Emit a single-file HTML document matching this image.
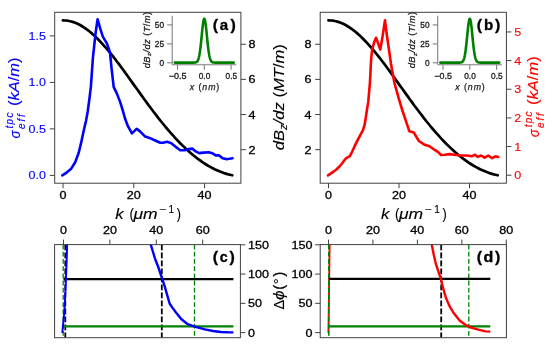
<!DOCTYPE html><html><head><meta charset="utf-8"><style>html,body{margin:0;padding:0;background:#fff;width:550px;height:348px;overflow:hidden}svg{display:block;will-change:transform}text{font-family:"Liberation Sans",sans-serif}</style></head><body>
<svg width="550" height="348" viewBox="0 0 550 348">
<rect width="550" height="348" fill="#fff"/>
<defs>
<clipPath id="ca"><rect x="54.7" y="12.3" width="186.2" height="170.89999999999998"/></clipPath>
<clipPath id="cb"><rect x="320.2" y="12.3" width="186.2" height="170.89999999999998"/></clipPath>
<clipPath id="cc"><rect x="54.6" y="244.6" width="185.8" height="93.1"/></clipPath>
<clipPath id="cd"><rect x="320.2" y="244.6" width="186.2" height="93.1"/></clipPath>
</defs>
<g clip-path="url(#ca)">
<polyline points="62.9,20.4 65.4,20.5 67.8,20.7 70.3,21.2 72.7,21.9 75.2,22.7 77.6,23.8 80.1,25.0 82.5,26.5 85.0,28.1 87.5,29.9 89.9,31.8 92.4,33.9 94.8,36.1 97.3,38.5 99.7,41.0 102.2,43.6 104.6,46.4 107.1,49.2 109.5,52.2 112.0,55.2 114.5,58.3 116.9,61.5 119.4,64.7 121.8,68.0 124.3,71.4 126.7,74.8 129.2,78.2 131.6,81.6 134.1,85.1 136.6,88.5 139.0,91.9 141.5,95.4 143.9,98.8 146.4,102.1 148.8,105.5 151.3,108.8 153.7,112.0 156.2,115.2 158.6,118.4 161.1,121.5 163.6,124.5 166.0,127.5 168.5,130.4 170.9,133.2 173.4,135.9 175.8,138.6 178.3,141.2 180.7,143.7 183.2,146.1 185.7,148.5 188.1,150.7 190.6,152.9 193.0,155.0 195.5,157.0 197.9,158.9 200.4,160.7 202.8,162.4 205.3,164.0 207.7,165.5 210.2,166.9 212.7,168.2 215.1,169.5 217.6,170.6 220.0,171.6 222.5,172.5 224.9,173.4 227.4,174.1 229.8,174.7 232.3,175.3" fill="none" stroke="#000" stroke-width="2.7" stroke-linejoin="round" stroke-linecap="round"/>
<polyline points="62.3,175.3 66.6,172.6 70.9,169.1 75.2,162.2 78.7,152.8 81.2,142.4 83.8,130.3 86.1,120.5 87.7,111.5 89.4,99.0 90.9,86.4 92.9,57.9 95.7,32.1 97.6,19.3 100.5,29.4 102.8,36.6 107.1,43.8 110.0,52.5 111.4,66.9 113.7,87.1 116.6,92.9 120.2,102.1 122.8,110.7 125.3,119.3 127.9,126.2 131.9,133.4 134.0,131.4 136.6,128.8 140.0,131.4 145.2,136.6 149.5,137.9 155.2,140.5 160.3,142.8 163.8,142.6 167.2,141.7 171.6,143.4 175.9,146.9 180.2,150.3 184.5,150.3 188.8,149.1 192.2,148.6 195.7,151.4 199.1,153.1 203.4,152.6 208.8,152.2 212.2,153.2 215.7,155.4 219.1,155.4 222.6,158.2 226.0,159.1 229.5,158.7 232.5,158.2" fill="none" stroke="#0000ff" stroke-width="2.6" stroke-linejoin="round" stroke-linecap="round"/>
</g>
<rect x="54.7" y="12.3" width="186.2" height="170.89999999999998" fill="none" stroke="#404040" stroke-width="1.0"/>
<polyline points="174.82,62.60 175.19,62.60 175.56,62.60 175.93,62.60 176.30,62.60 176.67,62.60 177.04,62.60 177.42,62.60 177.79,62.60 178.16,62.60 178.53,62.60 178.90,62.60 179.27,62.60 179.64,62.60 180.01,62.60 180.38,62.60 180.75,62.60 181.12,62.60 181.49,62.60 181.87,62.60 182.24,62.60 182.61,62.60 182.98,62.60 183.35,62.60 183.72,62.60 184.09,62.60 184.46,62.60 184.83,62.60 185.20,62.60 185.57,62.60 185.94,62.60 186.32,62.60 186.69,62.60 187.06,62.60 187.43,62.60 187.80,62.60 188.17,62.60 188.54,62.60 188.91,62.60 189.28,62.60 189.65,62.60 190.02,62.60 190.39,62.60 190.77,62.60 191.14,62.60 191.51,62.60 191.88,62.60 192.25,62.60 192.62,62.60 192.99,62.60 193.36,62.59 193.73,62.59 194.10,62.58 194.47,62.56 194.84,62.53 195.21,62.49 195.59,62.42 195.96,62.32 196.33,62.16 196.70,61.94 197.07,61.61 197.44,61.15 197.81,60.53 198.18,59.70 198.55,58.61 198.92,57.21 199.29,55.48 199.66,53.37 200.04,50.88 200.41,48.00 200.78,44.78 201.15,41.28 201.52,37.60 201.89,33.85 202.26,30.20 202.63,26.81 203.00,23.83 203.37,21.45 203.74,19.77 204.11,18.91 204.49,18.91 204.86,19.77 205.23,21.45 205.60,23.83 205.97,26.81 206.34,30.20 206.71,33.85 207.08,37.60 207.45,41.28 207.82,44.78 208.19,48.00 208.56,50.88 208.94,53.37 209.31,55.48 209.68,57.21 210.05,58.61 210.42,59.70 210.79,60.53 211.16,61.15 211.53,61.61 211.90,61.94 212.27,62.16 212.64,62.32 213.01,62.42 213.39,62.49 213.76,62.53 214.13,62.56 214.50,62.58 214.87,62.59 215.24,62.59 215.61,62.60 215.98,62.60 216.35,62.60 216.72,62.60 217.09,62.60 217.46,62.60 217.83,62.60 218.21,62.60 218.58,62.60 218.95,62.60 219.32,62.60 219.69,62.60 220.06,62.60 220.43,62.60 220.80,62.60 221.17,62.60 221.54,62.60 221.91,62.60 222.28,62.60 222.66,62.60 223.03,62.60 223.40,62.60 223.77,62.60 224.14,62.60 224.51,62.60 224.88,62.60 225.25,62.60 225.62,62.60 225.99,62.60 226.36,62.60 226.73,62.60 227.11,62.60 227.48,62.60 227.85,62.60 228.22,62.60 228.59,62.60 228.96,62.60 229.33,62.60 229.70,62.60 230.07,62.60 230.44,62.60 230.81,62.60 231.18,62.60 231.56,62.60 231.93,62.60 232.30,62.60 232.67,62.60 233.04,62.60 233.41,62.60 233.78,62.60" fill="none" stroke="#008000" stroke-width="2.6" stroke-linejoin="round" stroke-linecap="round"/>
<line x1="172.2" y1="15.8" x2="172.2" y2="64.7" stroke="#7f7f7f" stroke-width="1.1"/>
<line x1="172.2" y1="64.7" x2="236.4" y2="64.7" stroke="#7f7f7f" stroke-width="1.1"/>
<line x1="167.2" y1="62.8" x2="172.2" y2="62.8" stroke="#7f7f7f" stroke-width="1.1"/>
<text x="159.40" y="65.80" font-size="8.6" fill="#1a1a1a" textLength="4.6" lengthAdjust="spacingAndGlyphs" stroke="#1a1a1a" stroke-width="0.3">0</text>
<line x1="167.2" y1="43.9" x2="172.2" y2="43.9" stroke="#7f7f7f" stroke-width="1.1"/>
<text x="154.80" y="46.90" font-size="8.6" fill="#1a1a1a" textLength="9.2" lengthAdjust="spacingAndGlyphs" stroke="#1a1a1a" stroke-width="0.3">25</text>
<line x1="167.2" y1="24.9" x2="172.2" y2="24.9" stroke="#7f7f7f" stroke-width="1.1"/>
<text x="154.80" y="27.90" font-size="8.6" fill="#1a1a1a" textLength="9.2" lengthAdjust="spacingAndGlyphs" stroke="#1a1a1a" stroke-width="0.3">50</text>
<line x1="177.5" y1="64.7" x2="177.5" y2="69.7" stroke="#7f7f7f" stroke-width="1.1"/>
<text x="168.85" y="79.00" font-size="8.6" fill="#1a1a1a" textLength="17.7" lengthAdjust="spacingAndGlyphs" stroke="#1a1a1a" stroke-width="0.3">−0.5</text>
<line x1="204.3" y1="64.7" x2="204.3" y2="69.7" stroke="#7f7f7f" stroke-width="1.1"/>
<text x="198.75" y="79.00" font-size="8.6" fill="#1a1a1a" textLength="11.5" lengthAdjust="spacingAndGlyphs" stroke="#1a1a1a" stroke-width="0.3">0.0</text>
<line x1="231.1" y1="64.7" x2="231.1" y2="69.7" stroke="#7f7f7f" stroke-width="1.1"/>
<text x="225.55" y="79.00" font-size="8.6" fill="#1a1a1a" textLength="11.5" lengthAdjust="spacingAndGlyphs" stroke="#1a1a1a" stroke-width="0.3">0.5</text>
<text x="189.80" y="90.00" font-size="8.8" fill="#1a1a1a" textLength="29.5" lengthAdjust="spacing" stroke="#1a1a1a" stroke-width="0.25"><tspan font-style="italic">x</tspan> (<tspan font-style="italic">nm</tspan>)</text>
<g transform="translate(149.6,68.3) rotate(-90)">
<text x="0.00" y="0.00" font-size="9.4" fill="#1a1a1a" textLength="56.5" lengthAdjust="spacing" stroke="#1a1a1a" stroke-width="0.25"><tspan font-style="italic">dB</tspan><tspan font-style="italic" font-size="6.0" dy="1.7">z</tspan><tspan font-style="italic" dy="-1.7">/dz</tspan> (<tspan font-style="italic">T</tspan>/<tspan font-style="italic">m</tspan>)</text>
</g>
<text x="212.80" y="29.70" font-size="14.4" font-weight="bold" textLength="5.3" lengthAdjust="spacingAndGlyphs" stroke="#000" stroke-width="0.3">(</text>
<text x="219.80" y="30.20" font-size="14.0" font-weight="bold" textLength="8.4" lengthAdjust="spacingAndGlyphs" stroke="#000" stroke-width="0.3">a</text>
<text x="230.40" y="29.70" font-size="14.4" font-weight="bold" textLength="5.3" lengthAdjust="spacingAndGlyphs" stroke="#000" stroke-width="0.3">)</text>
<line x1="49.7" y1="175.40" x2="54.7" y2="175.40" stroke="#404040" stroke-width="1.0"/>
<text x="28.60" y="179.40" font-size="11.2" fill="#0000ff" textLength="17.4" lengthAdjust="spacingAndGlyphs" stroke="#0000ff" stroke-width="0.12">0.0</text>
<line x1="49.7" y1="128.90" x2="54.7" y2="128.90" stroke="#404040" stroke-width="1.0"/>
<text x="28.60" y="132.90" font-size="11.2" fill="#0000ff" textLength="17.4" lengthAdjust="spacingAndGlyphs" stroke="#0000ff" stroke-width="0.12">0.5</text>
<line x1="49.7" y1="82.40" x2="54.7" y2="82.40" stroke="#404040" stroke-width="1.0"/>
<text x="28.60" y="86.40" font-size="11.2" fill="#0000ff" textLength="17.4" lengthAdjust="spacingAndGlyphs" stroke="#0000ff" stroke-width="0.12">1.0</text>
<line x1="49.7" y1="35.90" x2="54.7" y2="35.90" stroke="#404040" stroke-width="1.0"/>
<text x="28.60" y="39.90" font-size="11.2" fill="#0000ff" textLength="17.4" lengthAdjust="spacingAndGlyphs" stroke="#0000ff" stroke-width="0.12">1.5</text>
<line x1="240.9" y1="149.66" x2="245.9" y2="149.66" stroke="#404040" stroke-width="1.0"/>
<text x="248.50" y="153.66" font-size="11.2" textLength="7.0" lengthAdjust="spacingAndGlyphs" stroke="#000" stroke-width="0.3">2</text>
<line x1="240.9" y1="114.52" x2="245.9" y2="114.52" stroke="#404040" stroke-width="1.0"/>
<text x="248.50" y="118.52" font-size="11.2" textLength="7.0" lengthAdjust="spacingAndGlyphs" stroke="#000" stroke-width="0.3">4</text>
<line x1="240.9" y1="79.38" x2="245.9" y2="79.38" stroke="#404040" stroke-width="1.0"/>
<text x="248.50" y="83.38" font-size="11.2" textLength="7.0" lengthAdjust="spacingAndGlyphs" stroke="#000" stroke-width="0.3">6</text>
<line x1="240.9" y1="44.24" x2="245.9" y2="44.24" stroke="#404040" stroke-width="1.0"/>
<text x="248.50" y="48.24" font-size="11.2" textLength="7.0" lengthAdjust="spacingAndGlyphs" stroke="#000" stroke-width="0.3">8</text>
<line x1="63.00" y1="183.2" x2="63.00" y2="188.2" stroke="#404040" stroke-width="1.0"/>
<text x="59.50" y="199.20" font-size="11.2" textLength="7.0" lengthAdjust="spacingAndGlyphs" stroke="#000" stroke-width="0.3">0</text>
<line x1="133.80" y1="183.2" x2="133.80" y2="188.2" stroke="#404040" stroke-width="1.0"/>
<text x="126.80" y="199.20" font-size="11.2" textLength="14.0" lengthAdjust="spacingAndGlyphs" stroke="#000" stroke-width="0.3">20</text>
<line x1="204.60" y1="183.2" x2="204.60" y2="188.2" stroke="#404040" stroke-width="1.0"/>
<text x="197.60" y="199.20" font-size="11.2" textLength="14.0" lengthAdjust="spacingAndGlyphs" stroke="#000" stroke-width="0.3">40</text>
<text x="115.30" y="218.70" font-size="14.0" font-style="italic" textLength="8.4" lengthAdjust="spacingAndGlyphs" stroke="#000" stroke-width="0.12">k</text>
<text x="129.40" y="218.70" font-size="14.0" textLength="4.4" lengthAdjust="spacingAndGlyphs" stroke="#000" stroke-width="0.12">(</text>
<text x="133.40" y="218.70" font-size="14.0" font-style="italic" textLength="24.2" lengthAdjust="spacingAndGlyphs" stroke="#000" stroke-width="0.12">μm</text>
<text x="159.50" y="212.80" font-size="10.0" textLength="7.2" lengthAdjust="spacingAndGlyphs" stroke="#000" stroke-width="0.12">−</text>
<text x="168.60" y="212.80" font-size="10.0" textLength="5.6" lengthAdjust="spacingAndGlyphs" stroke="#000" stroke-width="0.12">1</text>
<text x="176.80" y="218.70" font-size="14.0" textLength="4.2" lengthAdjust="spacingAndGlyphs" stroke="#000" stroke-width="0.12">)</text>
<g transform="translate(19.9,138.4) rotate(-90)">
<text x="0.00" y="0.00" font-size="14.4" fill="#0000ff" font-style="italic" textLength="8.0" lengthAdjust="spacingAndGlyphs" stroke="#0000ff" stroke-width="0.12">σ</text>
<text x="9.40" y="4.70" font-size="10.0" fill="#0000ff" font-style="italic" textLength="14.8" lengthAdjust="spacing" stroke="#0000ff" stroke-width="0.12">eff</text>
<text x="10.00" y="-7.40" font-size="10.0" fill="#0000ff" font-style="italic" textLength="15.8" lengthAdjust="spacing" stroke="#0000ff" stroke-width="0.12">tpc</text>
<text x="32.40" y="-0.60" font-size="14.0" fill="#0000ff" textLength="48.6" lengthAdjust="spacingAndGlyphs" stroke="#0000ff" stroke-width="0.12">(<tspan font-style="italic">kA</tspan>/<tspan font-style="italic">m</tspan>)</text>
</g>
<g clip-path="url(#cb)">
<polyline points="328.4,20.4 330.9,20.5 333.3,20.7 335.8,21.2 338.2,21.9 340.7,22.7 343.1,23.8 345.6,25.0 348.0,26.5 350.5,28.1 353.0,29.9 355.4,31.8 357.9,33.9 360.3,36.1 362.8,38.5 365.2,41.0 367.7,43.6 370.1,46.4 372.6,49.2 375.0,52.2 377.5,55.2 380.0,58.3 382.4,61.5 384.9,64.7 387.3,68.0 389.8,71.4 392.2,74.8 394.7,78.2 397.1,81.6 399.6,85.1 402.1,88.5 404.5,91.9 407.0,95.4 409.4,98.8 411.9,102.1 414.3,105.5 416.8,108.8 419.2,112.0 421.7,115.2 424.1,118.4 426.6,121.5 429.1,124.5 431.5,127.5 434.0,130.4 436.4,133.2 438.9,135.9 441.3,138.6 443.8,141.2 446.2,143.7 448.7,146.1 451.2,148.5 453.6,150.7 456.1,152.9 458.5,155.0 461.0,157.0 463.4,158.9 465.9,160.7 468.3,162.4 470.8,164.0 473.2,165.5 475.7,166.9 478.2,168.2 480.6,169.5 483.1,170.6 485.5,171.6 488.0,172.5 490.4,173.4 492.9,174.1 495.3,174.7 497.8,175.3" fill="none" stroke="#000" stroke-width="2.7" stroke-linejoin="round" stroke-linecap="round"/>
<polyline points="328.0,175.4 332.1,172.6 336.1,169.7 339.5,166.5 342.4,163.0 345.3,159.0 347.6,157.3 349.9,156.1 352.2,151.5 355.1,145.2 357.4,140.6 359.6,136.4 363.0,130.1 364.7,124.4 366.5,112.9 368.3,101.4 369.9,83.0 371.1,60.0 372.1,49.5 374.1,42.6 376.0,37.8 378.1,43.4 380.3,49.5 382.4,37.4 385.0,20.2 386.3,31.0 388.1,43.8 391.0,63.9 394.4,82.8 398.8,98.7 402.4,110.5 405.7,120.3 409.4,131.3 413.7,132.4 418.9,141.0 424.7,144.8 429.5,146.2 434.4,149.7 438.2,152.2 441.0,155.0 445.0,154.7 449.1,154.1 454.6,154.7 460.1,155.5 466.9,155.5 471.8,156.3 475.1,154.7 477.8,156.9 481.1,155.5 484.6,157.7 488.2,155.5 492.0,158.2 495.5,156.3 498.3,156.9" fill="none" stroke="#ff0000" stroke-width="2.6" stroke-linejoin="round" stroke-linecap="round"/>
</g>
<rect x="320.2" y="12.3" width="186.2" height="170.89999999999998" fill="none" stroke="#404040" stroke-width="1.0"/>
<polyline points="440.32,62.60 440.69,62.60 441.06,62.60 441.43,62.60 441.80,62.60 442.17,62.60 442.54,62.60 442.92,62.60 443.29,62.60 443.66,62.60 444.03,62.60 444.40,62.60 444.77,62.60 445.14,62.60 445.51,62.60 445.88,62.60 446.25,62.60 446.62,62.60 446.99,62.60 447.37,62.60 447.74,62.60 448.11,62.60 448.48,62.60 448.85,62.60 449.22,62.60 449.59,62.60 449.96,62.60 450.33,62.60 450.70,62.60 451.07,62.60 451.44,62.60 451.82,62.60 452.19,62.60 452.56,62.60 452.93,62.60 453.30,62.60 453.67,62.60 454.04,62.60 454.41,62.60 454.78,62.60 455.15,62.60 455.52,62.60 455.89,62.60 456.27,62.60 456.64,62.60 457.01,62.60 457.38,62.60 457.75,62.60 458.12,62.60 458.49,62.60 458.86,62.59 459.23,62.59 459.60,62.58 459.97,62.56 460.34,62.53 460.71,62.49 461.09,62.42 461.46,62.32 461.83,62.16 462.20,61.94 462.57,61.61 462.94,61.15 463.31,60.53 463.68,59.70 464.05,58.61 464.42,57.21 464.79,55.48 465.16,53.37 465.54,50.88 465.91,48.00 466.28,44.78 466.65,41.28 467.02,37.60 467.39,33.85 467.76,30.20 468.13,26.81 468.50,23.83 468.87,21.45 469.24,19.77 469.61,18.91 469.99,18.91 470.36,19.77 470.73,21.45 471.10,23.83 471.47,26.81 471.84,30.20 472.21,33.85 472.58,37.60 472.95,41.28 473.32,44.78 473.69,48.00 474.06,50.88 474.44,53.37 474.81,55.48 475.18,57.21 475.55,58.61 475.92,59.70 476.29,60.53 476.66,61.15 477.03,61.61 477.40,61.94 477.77,62.16 478.14,62.32 478.51,62.42 478.89,62.49 479.26,62.53 479.63,62.56 480.00,62.58 480.37,62.59 480.74,62.59 481.11,62.60 481.48,62.60 481.85,62.60 482.22,62.60 482.59,62.60 482.96,62.60 483.33,62.60 483.71,62.60 484.08,62.60 484.45,62.60 484.82,62.60 485.19,62.60 485.56,62.60 485.93,62.60 486.30,62.60 486.67,62.60 487.04,62.60 487.41,62.60 487.78,62.60 488.16,62.60 488.53,62.60 488.90,62.60 489.27,62.60 489.64,62.60 490.01,62.60 490.38,62.60 490.75,62.60 491.12,62.60 491.49,62.60 491.86,62.60 492.23,62.60 492.61,62.60 492.98,62.60 493.35,62.60 493.72,62.60 494.09,62.60 494.46,62.60 494.83,62.60 495.20,62.60 495.57,62.60 495.94,62.60 496.31,62.60 496.68,62.60 497.06,62.60 497.43,62.60 497.80,62.60 498.17,62.60 498.54,62.60 498.91,62.60 499.28,62.60" fill="none" stroke="#008000" stroke-width="2.6" stroke-linejoin="round" stroke-linecap="round"/>
<line x1="437.7" y1="15.8" x2="437.7" y2="64.7" stroke="#7f7f7f" stroke-width="1.1"/>
<line x1="437.7" y1="64.7" x2="501.9" y2="64.7" stroke="#7f7f7f" stroke-width="1.1"/>
<line x1="432.7" y1="62.8" x2="437.7" y2="62.8" stroke="#7f7f7f" stroke-width="1.1"/>
<text x="424.90" y="65.80" font-size="8.6" fill="#1a1a1a" textLength="4.6" lengthAdjust="spacingAndGlyphs" stroke="#1a1a1a" stroke-width="0.3">0</text>
<line x1="432.7" y1="43.9" x2="437.7" y2="43.9" stroke="#7f7f7f" stroke-width="1.1"/>
<text x="420.30" y="46.90" font-size="8.6" fill="#1a1a1a" textLength="9.2" lengthAdjust="spacingAndGlyphs" stroke="#1a1a1a" stroke-width="0.3">25</text>
<line x1="432.7" y1="24.9" x2="437.7" y2="24.9" stroke="#7f7f7f" stroke-width="1.1"/>
<text x="420.30" y="27.90" font-size="8.6" fill="#1a1a1a" textLength="9.2" lengthAdjust="spacingAndGlyphs" stroke="#1a1a1a" stroke-width="0.3">50</text>
<line x1="443.0" y1="64.7" x2="443.0" y2="69.7" stroke="#7f7f7f" stroke-width="1.1"/>
<text x="434.35" y="79.00" font-size="8.6" fill="#1a1a1a" textLength="17.7" lengthAdjust="spacingAndGlyphs" stroke="#1a1a1a" stroke-width="0.3">−0.5</text>
<line x1="469.8" y1="64.7" x2="469.8" y2="69.7" stroke="#7f7f7f" stroke-width="1.1"/>
<text x="464.25" y="79.00" font-size="8.6" fill="#1a1a1a" textLength="11.5" lengthAdjust="spacingAndGlyphs" stroke="#1a1a1a" stroke-width="0.3">0.0</text>
<line x1="496.6" y1="64.7" x2="496.6" y2="69.7" stroke="#7f7f7f" stroke-width="1.1"/>
<text x="491.05" y="79.00" font-size="8.6" fill="#1a1a1a" textLength="11.5" lengthAdjust="spacingAndGlyphs" stroke="#1a1a1a" stroke-width="0.3">0.5</text>
<text x="455.30" y="90.00" font-size="8.8" fill="#1a1a1a" textLength="29.5" lengthAdjust="spacing" stroke="#1a1a1a" stroke-width="0.25"><tspan font-style="italic">x</tspan> (<tspan font-style="italic">nm</tspan>)</text>
<g transform="translate(415.1,68.3) rotate(-90)">
<text x="0.00" y="0.00" font-size="9.4" fill="#1a1a1a" textLength="56.5" lengthAdjust="spacing" stroke="#1a1a1a" stroke-width="0.25"><tspan font-style="italic">dB</tspan><tspan font-style="italic" font-size="6.0" dy="1.7">z</tspan><tspan font-style="italic" dy="-1.7">/dz</tspan> (<tspan font-style="italic">T</tspan>/<tspan font-style="italic">m</tspan>)</text>
</g>
<text x="476.80" y="29.70" font-size="14.4" font-weight="bold" textLength="5.3" lengthAdjust="spacingAndGlyphs" stroke="#000" stroke-width="0.3">(</text>
<text x="484.00" y="30.20" font-size="14.0" font-weight="bold" textLength="9.2" lengthAdjust="spacingAndGlyphs" stroke="#000" stroke-width="0.3">b</text>
<text x="495.00" y="29.70" font-size="14.4" font-weight="bold" textLength="5.3" lengthAdjust="spacingAndGlyphs" stroke="#000" stroke-width="0.3">)</text>
<line x1="315.2" y1="149.66" x2="320.2" y2="149.66" stroke="#404040" stroke-width="1.0"/>
<text x="304.60" y="153.66" font-size="11.2" textLength="7.0" lengthAdjust="spacingAndGlyphs" stroke="#000" stroke-width="0.3">2</text>
<line x1="315.2" y1="114.52" x2="320.2" y2="114.52" stroke="#404040" stroke-width="1.0"/>
<text x="304.60" y="118.52" font-size="11.2" textLength="7.0" lengthAdjust="spacingAndGlyphs" stroke="#000" stroke-width="0.3">4</text>
<line x1="315.2" y1="79.38" x2="320.2" y2="79.38" stroke="#404040" stroke-width="1.0"/>
<text x="304.60" y="83.38" font-size="11.2" textLength="7.0" lengthAdjust="spacingAndGlyphs" stroke="#000" stroke-width="0.3">6</text>
<line x1="315.2" y1="44.24" x2="320.2" y2="44.24" stroke="#404040" stroke-width="1.0"/>
<text x="304.60" y="48.24" font-size="11.2" textLength="7.0" lengthAdjust="spacingAndGlyphs" stroke="#000" stroke-width="0.3">8</text>
<line x1="506.4" y1="175.20" x2="511.4" y2="175.20" stroke="#404040" stroke-width="1.0"/>
<text x="514.30" y="179.20" font-size="11.2" fill="#ff0000" textLength="7.0" lengthAdjust="spacingAndGlyphs" stroke="#ff0000" stroke-width="0.12">0</text>
<line x1="506.4" y1="146.55" x2="511.4" y2="146.55" stroke="#404040" stroke-width="1.0"/>
<text x="514.30" y="150.55" font-size="11.2" fill="#ff0000" textLength="7.0" lengthAdjust="spacingAndGlyphs" stroke="#ff0000" stroke-width="0.12">1</text>
<line x1="506.4" y1="117.90" x2="511.4" y2="117.90" stroke="#404040" stroke-width="1.0"/>
<text x="514.30" y="121.90" font-size="11.2" fill="#ff0000" textLength="7.0" lengthAdjust="spacingAndGlyphs" stroke="#ff0000" stroke-width="0.12">2</text>
<line x1="506.4" y1="89.25" x2="511.4" y2="89.25" stroke="#404040" stroke-width="1.0"/>
<text x="514.30" y="93.25" font-size="11.2" fill="#ff0000" textLength="7.0" lengthAdjust="spacingAndGlyphs" stroke="#ff0000" stroke-width="0.12">3</text>
<line x1="506.4" y1="60.60" x2="511.4" y2="60.60" stroke="#404040" stroke-width="1.0"/>
<text x="514.30" y="64.60" font-size="11.2" fill="#ff0000" textLength="7.0" lengthAdjust="spacingAndGlyphs" stroke="#ff0000" stroke-width="0.12">4</text>
<line x1="506.4" y1="31.95" x2="511.4" y2="31.95" stroke="#404040" stroke-width="1.0"/>
<text x="514.30" y="35.95" font-size="11.2" fill="#ff0000" textLength="7.0" lengthAdjust="spacingAndGlyphs" stroke="#ff0000" stroke-width="0.12">5</text>
<line x1="328.50" y1="183.2" x2="328.50" y2="188.2" stroke="#404040" stroke-width="1.0"/>
<text x="325.00" y="199.20" font-size="11.2" textLength="7.0" lengthAdjust="spacingAndGlyphs" stroke="#000" stroke-width="0.3">0</text>
<line x1="399.00" y1="183.2" x2="399.00" y2="188.2" stroke="#404040" stroke-width="1.0"/>
<text x="392.00" y="199.20" font-size="11.2" textLength="14.0" lengthAdjust="spacingAndGlyphs" stroke="#000" stroke-width="0.3">20</text>
<line x1="469.50" y1="183.2" x2="469.50" y2="188.2" stroke="#404040" stroke-width="1.0"/>
<text x="462.50" y="199.20" font-size="11.2" textLength="14.0" lengthAdjust="spacingAndGlyphs" stroke="#000" stroke-width="0.3">40</text>
<text x="380.90" y="218.70" font-size="14.0" font-style="italic" textLength="8.4" lengthAdjust="spacingAndGlyphs" stroke="#000" stroke-width="0.12">k</text>
<text x="395.00" y="218.70" font-size="14.0" textLength="4.4" lengthAdjust="spacingAndGlyphs" stroke="#000" stroke-width="0.12">(</text>
<text x="399.00" y="218.70" font-size="14.0" font-style="italic" textLength="24.2" lengthAdjust="spacingAndGlyphs" stroke="#000" stroke-width="0.12">μm</text>
<text x="425.10" y="212.80" font-size="10.0" textLength="7.2" lengthAdjust="spacingAndGlyphs" stroke="#000" stroke-width="0.12">−</text>
<text x="434.20" y="212.80" font-size="10.0" textLength="5.6" lengthAdjust="spacingAndGlyphs" stroke="#000" stroke-width="0.12">1</text>
<text x="442.40" y="218.70" font-size="14.0" textLength="4.2" lengthAdjust="spacingAndGlyphs" stroke="#000" stroke-width="0.12">)</text>
<g transform="translate(284.3,150.3) rotate(-90)">
<text x="0.00" y="0.00" font-size="14.6" textLength="106.2" lengthAdjust="spacingAndGlyphs" stroke="#000" stroke-width="0.12"><tspan font-style="italic">dB</tspan><tspan font-style="italic" font-size="10" dy="2.2">z</tspan><tspan font-style="italic" dy="-2.2">/dz</tspan> (<tspan font-style="italic">MT</tspan>/<tspan font-style="italic">m</tspan>)</text>
</g>
<g transform="translate(538.9,137.3) rotate(-90)">
<text x="0.00" y="0.00" font-size="14.4" fill="#ff0000" font-style="italic" textLength="8.0" lengthAdjust="spacingAndGlyphs" stroke="#ff0000" stroke-width="0.12">σ</text>
<text x="9.40" y="4.70" font-size="10.0" fill="#ff0000" font-style="italic" textLength="14.8" lengthAdjust="spacing" stroke="#ff0000" stroke-width="0.12">eff</text>
<text x="10.00" y="-7.40" font-size="10.0" fill="#ff0000" font-style="italic" textLength="15.8" lengthAdjust="spacing" stroke="#ff0000" stroke-width="0.12">tpc</text>
<text x="32.40" y="-0.60" font-size="14.0" fill="#ff0000" textLength="48.6" lengthAdjust="spacingAndGlyphs" stroke="#ff0000" stroke-width="0.12">(<tspan font-style="italic">kA</tspan>/<tspan font-style="italic">m</tspan>)</text>
</g>
<g clip-path="url(#cc)">
<line x1="63.2" y1="244.6" x2="63.2" y2="337.7" stroke="#008000" stroke-width="1.3" stroke-dasharray="4.8,2.4"/>
<line x1="65.3" y1="244.6" x2="65.3" y2="337.7" stroke="#000" stroke-width="1.8" stroke-dasharray="5.6,2.4"/>
<line x1="161.8" y1="244.6" x2="161.8" y2="337.7" stroke="#000" stroke-width="1.8" stroke-dasharray="5.6,2.4"/>
<line x1="194.5" y1="244.6" x2="194.5" y2="337.7" stroke="#008000" stroke-width="1.3" stroke-dasharray="4.8,2.4"/>
<line x1="63.5" y1="279.1" x2="233.4" y2="279.1" stroke="#000" stroke-width="2.2"/>
<line x1="63.5" y1="326.4" x2="233.4" y2="326.4" stroke="#008000" stroke-width="2.2"/>
<polyline points="67.3,240 66.6,262 65.5,290 64.3,312 62.3,333" fill="none" stroke="#0000ff" stroke-width="2.0"/>
<polyline points="150.0,240.0 150.7,244.3 153.0,252.0 155.3,259.5 157.9,266.0 161.8,277.6 164.4,285.4 167.0,294.4 169.6,303.5 172.2,307.4 176.0,312.5 181.2,319.0 187.7,324.2 195.4,326.8 205.0,329.3 213.0,331.0 221.0,332.0 228.0,332.3 233.4,332.4" fill="none" stroke="#0000ff" stroke-width="2.4" stroke-linejoin="round"/>
</g>
<rect x="54.6" y="244.6" width="185.8" height="93.1" fill="none" stroke="#404040" stroke-width="1.0"/>
<text x="212.80" y="261.50" font-size="14.4" font-weight="bold" textLength="5.3" lengthAdjust="spacingAndGlyphs" stroke="#000" stroke-width="0.3">(</text>
<text x="219.80" y="262.00" font-size="14.0" font-weight="bold" textLength="7.9" lengthAdjust="spacingAndGlyphs" stroke="#000" stroke-width="0.3">c</text>
<text x="229.50" y="261.50" font-size="14.4" font-weight="bold" textLength="5.3" lengthAdjust="spacingAndGlyphs" stroke="#000" stroke-width="0.3">)</text>
<line x1="63.50" y1="239.6" x2="63.50" y2="244.6" stroke="#404040" stroke-width="1.0"/>
<text x="60.00" y="234.20" font-size="11.2" textLength="7.0" lengthAdjust="spacingAndGlyphs" stroke="#000" stroke-width="0.3">0</text>
<line x1="109.90" y1="239.6" x2="109.90" y2="244.6" stroke="#404040" stroke-width="1.0"/>
<text x="102.90" y="234.20" font-size="11.2" textLength="14.0" lengthAdjust="spacingAndGlyphs" stroke="#000" stroke-width="0.3">20</text>
<line x1="156.30" y1="239.6" x2="156.30" y2="244.6" stroke="#404040" stroke-width="1.0"/>
<text x="149.30" y="234.20" font-size="11.2" textLength="14.0" lengthAdjust="spacingAndGlyphs" stroke="#000" stroke-width="0.3">40</text>
<line x1="202.70" y1="239.6" x2="202.70" y2="244.6" stroke="#404040" stroke-width="1.0"/>
<text x="195.70" y="234.20" font-size="11.2" textLength="14.0" lengthAdjust="spacingAndGlyphs" stroke="#000" stroke-width="0.3">60</text>
<line x1="240.4" y1="332.60" x2="245.4" y2="332.60" stroke="#404040" stroke-width="1.0"/>
<text x="248.10" y="336.60" font-size="11.2" textLength="7.0" lengthAdjust="spacingAndGlyphs" stroke="#000" stroke-width="0.3">0</text>
<line x1="240.4" y1="303.34" x2="245.4" y2="303.34" stroke="#404040" stroke-width="1.0"/>
<text x="248.10" y="307.34" font-size="11.2" textLength="14.0" lengthAdjust="spacingAndGlyphs" stroke="#000" stroke-width="0.3">50</text>
<line x1="240.4" y1="274.07" x2="245.4" y2="274.07" stroke="#404040" stroke-width="1.0"/>
<text x="248.10" y="278.07" font-size="11.2" textLength="21.0" lengthAdjust="spacingAndGlyphs" stroke="#000" stroke-width="0.3">100</text>
<line x1="240.4" y1="244.81" x2="245.4" y2="244.81" stroke="#404040" stroke-width="1.0"/>
<text x="248.10" y="248.81" font-size="11.2" textLength="21.0" lengthAdjust="spacingAndGlyphs" stroke="#000" stroke-width="0.3">150</text>
<g transform="translate(283.6,309.4) rotate(-90)">
<text x="0.00" y="0.00" font-size="14.4" textLength="9.6" lengthAdjust="spacingAndGlyphs" stroke="#000" stroke-width="0.12">Δ</text>
<text x="9.40" y="0.00" font-size="14.4" font-style="italic" textLength="9.6" lengthAdjust="spacingAndGlyphs" stroke="#000" stroke-width="0.12">ϕ</text>
<text x="19.60" y="0.00" font-size="14.4" textLength="5.0" lengthAdjust="spacingAndGlyphs" stroke="#000" stroke-width="0.12">(</text>
<text x="25.20" y="0.00" font-size="14.4" textLength="6.0" lengthAdjust="spacingAndGlyphs" stroke="#000" stroke-width="0.12">°</text>
<text x="32.60" y="0.00" font-size="14.4" textLength="5.0" lengthAdjust="spacingAndGlyphs" stroke="#000" stroke-width="0.12">)</text>
</g>
<g clip-path="url(#cd)">
<polyline points="329.7,240 329.3,270 328.9,300 328.4,333" fill="none" stroke="#ff0000" stroke-width="1.9"/>
<line x1="328.8" y1="244.6" x2="328.8" y2="337.7" stroke="#008000" stroke-width="1.6" stroke-dasharray="4.8,2.4"/>
<line x1="441.2" y1="244.6" x2="441.2" y2="337.7" stroke="#000" stroke-width="1.8" stroke-dasharray="5.6,2.4"/>
<line x1="468.8" y1="244.6" x2="468.8" y2="337.7" stroke="#008000" stroke-width="1.3" stroke-dasharray="4.8,2.4"/>
<line x1="328.8" y1="278.8" x2="490.3" y2="278.8" stroke="#000" stroke-width="2.2"/>
<line x1="328.8" y1="326.4" x2="490.3" y2="326.4" stroke="#008000" stroke-width="2.2"/>
<polyline points="430.8,240.0 431.7,244.3 433.7,254.4 436.0,264.4 438.9,273.0 440.9,278.8 442.9,287.4 445.8,297.5 449.5,306.1 453.9,313.3 459.6,320.5 465.3,324.8 471.1,327.6 478.3,329.7 485.5,331.4 490.3,331.6" fill="none" stroke="#ff0000" stroke-width="2.4" stroke-linejoin="round"/>
</g>
<rect x="320.2" y="244.6" width="186.2" height="93.1" fill="none" stroke="#404040" stroke-width="1.0"/>
<text x="476.80" y="261.50" font-size="14.4" font-weight="bold" textLength="5.3" lengthAdjust="spacingAndGlyphs" stroke="#000" stroke-width="0.3">(</text>
<text x="483.50" y="262.00" font-size="14.0" font-weight="bold" textLength="9.8" lengthAdjust="spacingAndGlyphs" stroke="#000" stroke-width="0.3">d</text>
<text x="495.00" y="261.50" font-size="14.4" font-weight="bold" textLength="5.3" lengthAdjust="spacingAndGlyphs" stroke="#000" stroke-width="0.3">)</text>
<line x1="328.50" y1="239.6" x2="328.50" y2="244.6" stroke="#404040" stroke-width="1.0"/>
<text x="325.00" y="234.20" font-size="11.2" textLength="7.0" lengthAdjust="spacingAndGlyphs" stroke="#000" stroke-width="0.3">0</text>
<line x1="372.94" y1="239.6" x2="372.94" y2="244.6" stroke="#404040" stroke-width="1.0"/>
<text x="365.94" y="234.20" font-size="11.2" textLength="14.0" lengthAdjust="spacingAndGlyphs" stroke="#000" stroke-width="0.3">20</text>
<line x1="417.38" y1="239.6" x2="417.38" y2="244.6" stroke="#404040" stroke-width="1.0"/>
<text x="410.38" y="234.20" font-size="11.2" textLength="14.0" lengthAdjust="spacingAndGlyphs" stroke="#000" stroke-width="0.3">40</text>
<line x1="461.82" y1="239.6" x2="461.82" y2="244.6" stroke="#404040" stroke-width="1.0"/>
<text x="454.82" y="234.20" font-size="11.2" textLength="14.0" lengthAdjust="spacingAndGlyphs" stroke="#000" stroke-width="0.3">60</text>
<line x1="506.26" y1="239.6" x2="506.26" y2="244.6" stroke="#404040" stroke-width="1.0"/>
<text x="499.26" y="234.20" font-size="11.2" textLength="14.0" lengthAdjust="spacingAndGlyphs" stroke="#000" stroke-width="0.3">80</text>
<line x1="315.2" y1="332.60" x2="320.2" y2="332.60" stroke="#404040" stroke-width="1.0"/>
<text x="305.60" y="336.60" font-size="11.2" textLength="7.0" lengthAdjust="spacingAndGlyphs" stroke="#000" stroke-width="0.3">0</text>
<line x1="315.2" y1="303.34" x2="320.2" y2="303.34" stroke="#404040" stroke-width="1.0"/>
<text x="298.60" y="307.34" font-size="11.2" textLength="14.0" lengthAdjust="spacingAndGlyphs" stroke="#000" stroke-width="0.3">50</text>
<line x1="315.2" y1="274.07" x2="320.2" y2="274.07" stroke="#404040" stroke-width="1.0"/>
<text x="291.60" y="278.07" font-size="11.2" textLength="21.0" lengthAdjust="spacingAndGlyphs" stroke="#000" stroke-width="0.3">100</text>
<line x1="315.2" y1="244.81" x2="320.2" y2="244.81" stroke="#404040" stroke-width="1.0"/>
<text x="291.60" y="248.81" font-size="11.2" textLength="21.0" lengthAdjust="spacingAndGlyphs" stroke="#000" stroke-width="0.3">150</text>
</svg></body></html>
